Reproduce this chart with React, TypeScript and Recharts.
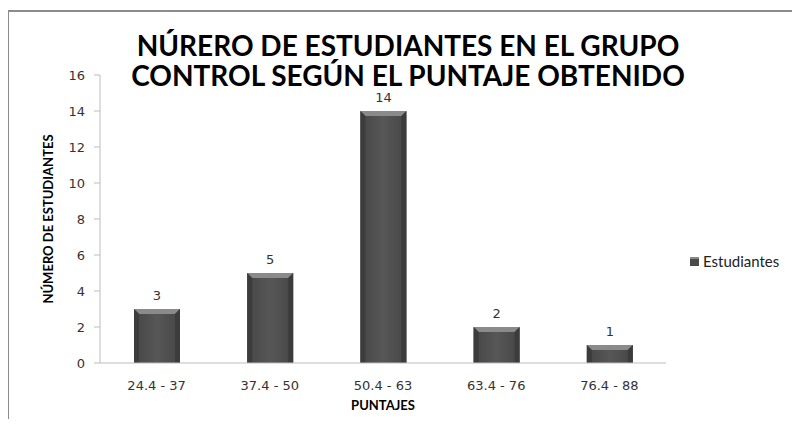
import React from 'react';
import { BarChart, Bar, XAxis, YAxis, LabelList } from 'recharts';

const rangos = ['24.4 - 37', '37.4 - 50', '50.4 - 63', '63.4 - 76', '76.4 - 88'];
const estudiantes = [3, 5, 14, 2, 1];
const yTicks = [0, 2, 4, 6, 8, 10, 12, 14, 16];

const data = rangos.map((r, i) => ({ rango: r, Estudiantes: estudiantes[i] }));

// bevelled bar like the old Excel style
const BevelBar = (props: any) => {
  const { x, y, width, height } = props;
  if (!height || height <= 0) return null;
  const b = Math.min(5, height / 2);
  return (
    <g>
      <rect x={x} y={y} width={width} height={height} fill="url(#barBody)" />
      <polygon
        points={`${x},${y} ${x + width},${y} ${x + width - b},${y + b} ${x + b},${y + b}`}
        fill="#8a8a8a"
      />
      <polygon points={`${x},${y} ${x + b},${y + b} ${x + b},${y + height} ${x},${y + height}`} fill="#3c3c3c" />
      <polygon
        points={`${x + width},${y} ${x + width - b},${y + b} ${x + width - b},${y + height} ${x + width},${y + height}`}
        fill="#3c3c3c"
      />
    </g>
  );
};

export default function App() {
  return (
    <div style={{ position: 'relative', width: 800, height: 427, margin: -8, overflow: 'hidden', background: '#fff' }}>
      <div
        style={{
          position: 'absolute',
          left: 7,
          top: 10,
          right: -10,
          bottom: -10,
          borderTop: '2px solid #8c8c8c',
          borderLeft: '2px solid #8c8c8c',
        }}
      />
      <div
        style={{
          position: 'absolute',
          left: 0,
          width: 816,
          top: 30,
          textAlign: 'center',
          fontFamily: 'Lato, sans-serif',
          fontWeight: 'bold',
          fontSize: 28,
          lineHeight: '30px',
          color: '#000',
        }}
      >
        NÚRERO DE ESTUDIANTES EN EL GRUPO
        <br />
        CONTROL SEGÚN EL PUNTAJE OBTENIDO
      </div>
      <div style={{ position: 'absolute', left: 0, top: 0 }}>
        <BarChart
          width={800}
          height={427}
          data={data}
          margin={{ top: 75, right: 134, bottom: 0, left: 40 }}
        >
          <defs>
            <linearGradient id="barBody" x1="0" y1="0" x2="1" y2="0">
              <stop offset="0%" stopColor="#464646" />
              <stop offset="50%" stopColor="#575757" />
              <stop offset="100%" stopColor="#464646" />
            </linearGradient>
          </defs>
          <XAxis
            dataKey="rango"
            height={64}
            tickLine={false}
            axisLine={{ stroke: '#bdbdbd' }}
            tick={{ fill: '#333', fontSize: 13, fontFamily: 'DejaVu Sans, sans-serif' }}
            tickMargin={12}
            label={{
              value: 'PUNTAJES',
              position: 'insideBottom',
              offset: 17,
              style: { fontFamily: 'Lato, sans-serif', fontWeight: 'bold', fontSize: 13, fill: '#000' },
            }}
          />
          <YAxis
            width={60}
            domain={[0, 16]}
            ticks={yTicks}
            interval={0}
            tickSize={6}
            tickMargin={9}
            axisLine={{ stroke: '#bdbdbd' }}
            tickLine={{ stroke: '#bdbdbd' }}
            tick={{ fill: '#333', fontSize: 13, fontFamily: 'DejaVu Sans, sans-serif' }}
            label={{
              value: 'NÚMERO DE ESTUDIANTES',
              angle: -90,
              position: 'insideLeft',
              offset: 0,
              dx: 8,
              style: { textAnchor: 'middle', fontFamily: 'Lato, sans-serif', fontWeight: 'bold', fontSize: 13, fill: '#000' },
            }}
          />
          <Bar dataKey="Estudiantes" barSize={46} shape={<BevelBar />} isAnimationActive={false}>
            <LabelList
              dataKey="Estudiantes"
              position="top"
              offset={9}
              style={{ fill: '#333', fontSize: 13, fontFamily: 'DejaVu Sans, sans-serif' }}
            />
          </Bar>
        </BarChart>
      </div>
      <div
        style={{
          position: 'absolute',
          left: 690,
          top: 252,
          display: 'flex',
          alignItems: 'center',
          fontFamily: 'Lato, sans-serif',
          fontSize: 15,
          color: '#222',
        }}
      >
        <svg width={9} height={9} style={{ marginRight: 4 }}>
          <rect x={0} y={0} width={9} height={9} fill="#4a4a4a" />
          <rect x={0} y={0} width={9} height={2} fill="#888" />
        </svg>
        Estudiantes
      </div>
    </div>
  );
}
